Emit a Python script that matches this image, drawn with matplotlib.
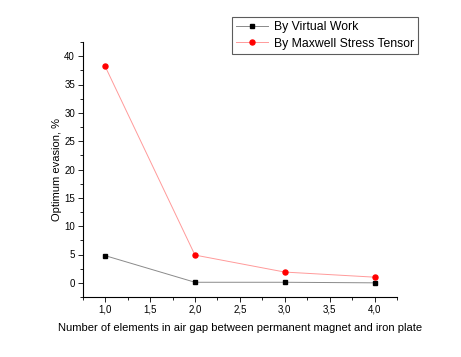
import matplotlib
matplotlib.use("Agg")
import matplotlib.pyplot as plt
from matplotlib.ticker import MultipleLocator, FuncFormatter

x_vals = [1.0, 2.0, 3.0, 4.0]
virtual_work = [4.8, 0.1, 0.1, 0.0]
maxwell = [38.2, 4.9, 1.9, 1.0]
label_vw = "By Virtual Work"
label_mx = "By Maxwell Stress Tensor"
xlabel = "Number of elements in air gap between permanent magnet and iron plate"
ylabel = "Optimum evasion, %"

plt.rcParams['font.family'] = ['Liberation Sans', 'DejaVu Sans']

fig = plt.figure(figsize=(4.61, 3.57), dpi=100)
ax = fig.add_axes([82.7/461, 1 - 297/357, (397-82.7)/461, (297-42)/357])

ax.plot(x_vals, virtual_work, color='#8a8a8a', lw=0.7, marker='s', ms=3.0,
        mfc='black', mec='black', label=label_vw)
ax.plot(x_vals, maxwell, color='#ff9a9a', lw=0.7, marker='o', ms=3.6,
        mfc='red', mec='red', label=label_mx)

ax.set_xlim(0.75, 4.25)
ax.set_ylim(-2.5, 42.5)
ax.xaxis.set_major_locator(MultipleLocator(0.5))
ax.xaxis.set_minor_locator(MultipleLocator(0.25))
ax.yaxis.set_major_locator(MultipleLocator(5))
ax.yaxis.set_minor_locator(MultipleLocator(2.5))
ax.xaxis.set_major_formatter(FuncFormatter(lambda v, p: f"{v:.1f}".replace('.', ',')))
ax.yaxis.set_major_formatter(FuncFormatter(lambda v, p: f"{v:.0f}"))

for s in ['top', 'right']:
    ax.spines[s].set_visible(False)
for s in ['left', 'bottom']:
    ax.spines[s].set_linewidth(0.8)

ax.tick_params(axis='both', which='major', direction='out', length=3.5, width=0.6,
               labelsize=7, pad=2, colors='black')
ax.tick_params(axis='both', which='minor', direction='out', length=2, width=0.6)

ax.set_xlabel(xlabel, fontsize=8, labelpad=6)
ax.set_ylabel(ylabel, fontsize=8, labelpad=2)

leg = ax.legend(loc='upper left', bbox_to_anchor=(232/461, 1 - 17/357),
                bbox_transform=fig.transFigure, prop={'size': 8.8}, frameon=True,
                fancybox=False, shadow=False, borderpad=0.35, labelspacing=0.35,
                handlelength=2.6, handletextpad=0.45, borderaxespad=0)
leg.get_frame().set_edgecolor('#333333')
leg.get_frame().set_linewidth(0.8)

fig.savefig("out.png", dpi=100)
